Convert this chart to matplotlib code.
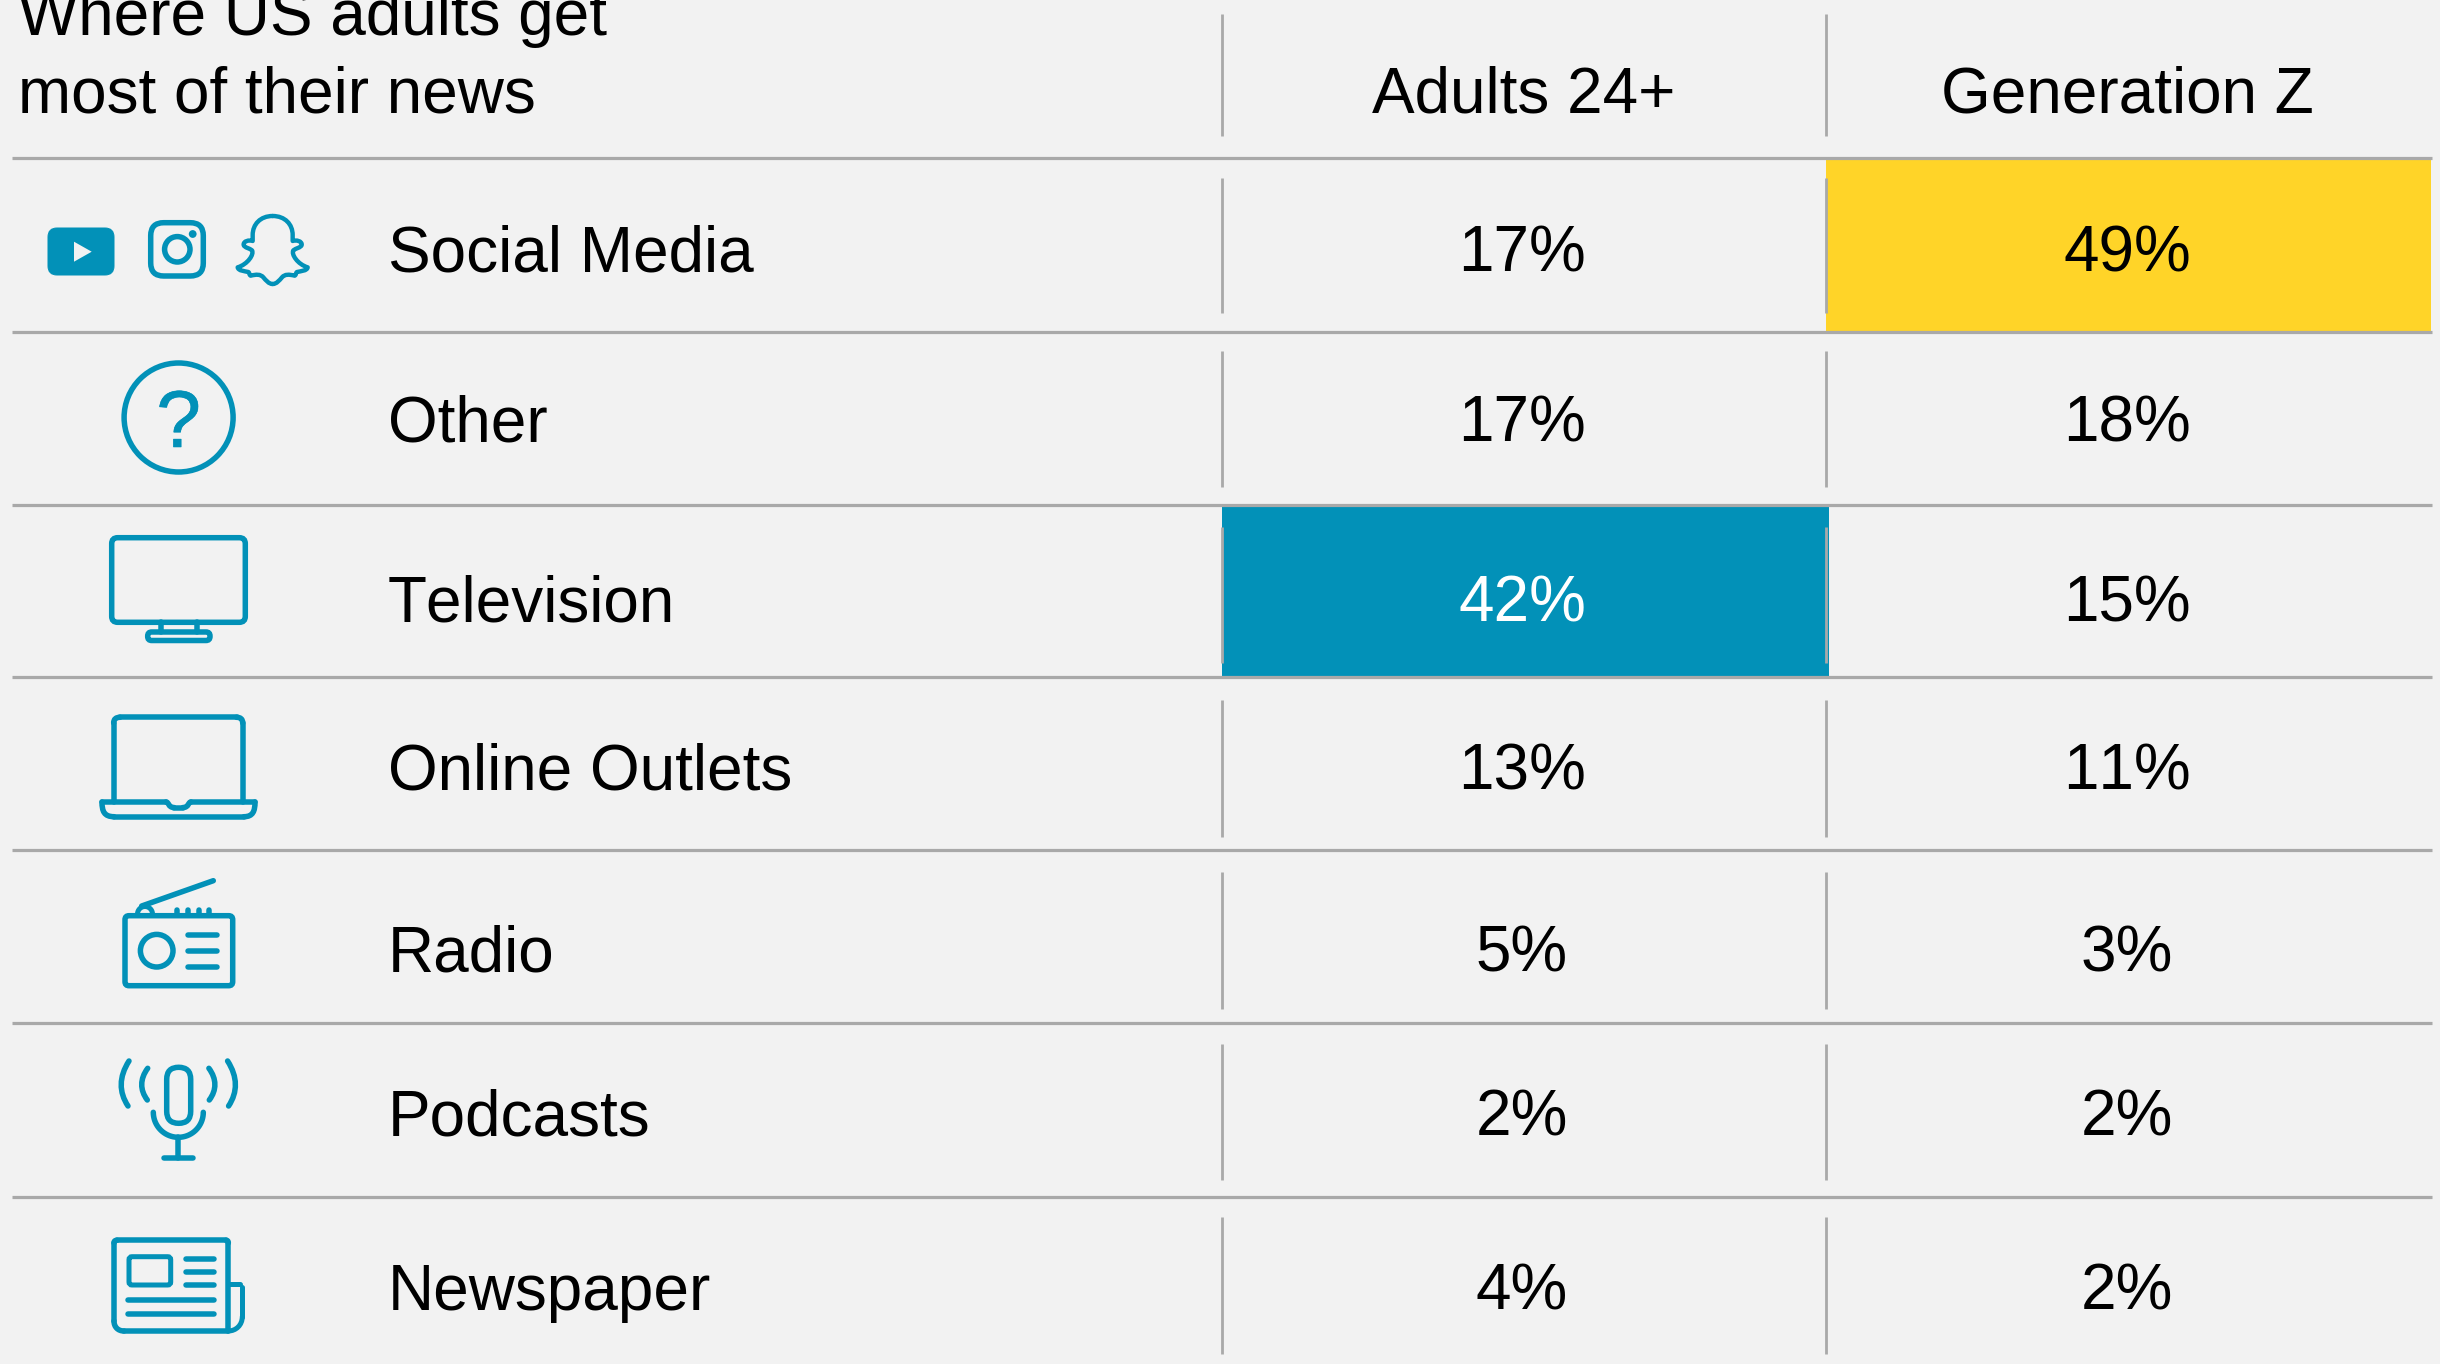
import numpy as np
import matplotlib
matplotlib.use('Agg')
import matplotlib.pyplot as plt
import matplotlib.patheffects as pe
from matplotlib.patches import Circle, FancyBboxPatch, PathPatch, Polygon, Rectangle
from matplotlib.path import Path

## Data
title_lines = ['Where US adults get', 'most of their news']
columns = ['Adults 24+', 'Generation Z']
sources = ['Social Media', 'Other', 'Television', 'Online Outlets', 'Radio', 'Podcasts', 'Newspaper']
adults = [17, 17, 42, 13, 5, 2, 4]
genz = [49, 18, 15, 11, 3, 2, 2]

## Layout, all in pixels of the 2440x1364 picture
BG = '#F2F2F2'
BLUE = '#0291B8'
YELLOW = '#FFD428'
RULE = '#A9A9A9'
PX = 0.72  # points per pixel at dpi 100
rule_ys = [158, 331.5, 505, 677, 850, 1023, 1197]
sep_xs = [1222, 1826]
col_xs = [1522, 2127]
head_xs = [1524, 2127]
baselines = [271, 441, 622, 789, 971, 1135, 1310]
sep_spans = [(178, 313), (351, 487), (527, 663), (700, 837), (872, 1009), (1044, 1180), (1217, 1354)]

plt.rcParams['font.family'] = ['Liberation Sans', 'DejaVu Sans']
plt.rcParams['text.kerning_factor'] = 6  # reference text has no kerning
fig = plt.figure(figsize=(24.4, 13.64), dpi=100, facecolor=BG)
ax = fig.add_axes([0, 0, 1, 1])
ax.set_xlim(0, 2440)
ax.set_ylim(1364, 0)
ax.axis('off')
FS = 46

## Highlights
ax.add_patch(Rectangle((1222, rule_ys[2]), 607, rule_ys[3] - rule_ys[2], fc=BLUE, ec='none', zorder=1))
ax.add_patch(Rectangle((1826, rule_ys[0]), 605, rule_ys[1] - rule_ys[0], fc=YELLOW, ec='none', zorder=1))

## Rules
for y in rule_ys:
    ax.plot([12, 2432], [y, y], color=RULE, lw=3.2 * PX, solid_capstyle='butt', zorder=2)
for x in sep_xs:
    ax.plot([x, x], [14, 136], color=RULE, lw=2.8 * PX, solid_capstyle='butt', zorder=2)
    for top, bottom in sep_spans:
        ax.plot([x, x], [top, bottom], color=RULE, lw=2.8 * PX, solid_capstyle='butt', zorder=2)

## Text
ax.text(18, 35, title_lines[0], fontsize=FS, va='baseline', ha='left', color='black')
ax.text(18, 112.5, title_lines[1], fontsize=FS, va='baseline', ha='left', color='black')
for x, name in zip(head_xs, columns):
    ax.text(x, 112.5, name, fontsize=FS, va='baseline', ha='center', color='black')
for i, name in enumerate(sources):
    ax.text(388, baselines[i], name, fontsize=FS, va='baseline', ha='left', color='black', zorder=3)
    ax.text(col_xs[0], baselines[i], '%d%%' % adults[i], fontsize=FS, va='baseline', ha='center',
            color='white' if adults[i] == max(adults) else 'black', zorder=3)
    ax.text(col_xs[1], baselines[i], '%d%%' % genz[i], fontsize=FS, va='baseline', ha='center',
            color='black', zorder=3)


## Icons
def line(xs, ys, lw=5.5):
    ax.plot(xs, ys, color=BLUE, lw=lw * PX, solid_capstyle='round', solid_joinstyle='round', zorder=3)


def rbox(x0, y0, x1, y1, r, lw=5.5, fill='none'):
    ax.add_patch(FancyBboxPatch((x0 + r, y0 + r), x1 - x0 - 2 * r, y1 - y0 - 2 * r,
                                boxstyle='round,pad=%g,rounding_size=%g' % (r, r),
                                fc=fill, ec=BLUE, lw=lw * PX, zorder=3))


def ring(x, y, r, lw=5.5):
    ax.add_patch(Circle((x, y), r, fc='none', ec=BLUE, lw=lw * PX, zorder=3))


def curve(points, lw=5.5):
    # points: start, then triples of bezier control points
    codes = [Path.MOVETO] + [Path.CURVE4] * (len(points) - 1)
    ax.add_patch(PathPatch(Path(points, codes), fc='none', ec=BLUE, lw=lw * PX,
                           capstyle='round', joinstyle='round', zorder=3))


# youtube
rbox(48, 228, 114, 275, 9, lw=1, fill=BLUE)
ax.add_patch(Polygon([(74, 241.7), (91.7, 251.7), (74, 261.7)], closed=True, fc=BG, ec='none', zorder=4))

# instagram
rbox(150.7, 222.7, 203.3, 276, 13)
ring(177.3, 249.3, 12.7)
ax.add_patch(Circle((192.7, 234), 3.9, fc=BLUE, ec='none', zorder=3))

# snapchat, right half in crop coordinates, then mirrored
snap_r = [(143, 33), (180, 33), (203, 58), (203, 90), (203, 97), (203, 100), (203, 108),
          (213, 104), (232, 108), (230, 120), (228, 128), (212, 130), (205, 136),
          (198, 148), (218, 178), (248, 187), (246, 198), (228, 198), (216, 201),
          (212, 203), (214, 210), (209, 212), (192, 208), (180, 207), (171, 217),
          (163, 226), (155, 237), (143, 237)]
snap_pts = [(225 + x / 3.0, 205 + y / 3.0) for x, y in snap_r]
curve(snap_pts, lw=4.4)
curve([(2 * 272.67 - x, y) for x, y in snap_pts], lw=4.4)

# question mark
ring(178.6, 417.5, 54.5)
ax.text(178.6, 447, '?', fontsize=58, color=BLUE, ha='center', va='baseline', zorder=3,
        path_effects=[pe.withStroke(linewidth=0.4, foreground=BLUE)])

# television
rbox(111.7, 537.7, 245.3, 622.3, 6)
line([160.7, 160.7], [622, 632])
line([196.7, 196.7], [622, 632])
rbox(147.7, 632, 210, 640.5, 4)

# laptop
line([113.7, 113.7], [802, 723])
curve([(113.7, 723), (113.7, 719), (116, 717.3), (120, 717.3)])
line([120, 236.5], [717.3, 717.3])
curve([(236.5, 717.3), (240.5, 717.3), (242.7, 719), (242.7, 723)])
line([242.7, 242.7], [723, 802])
line([102, 166], [802, 802])
curve([(166, 802), (169, 802), (168, 807.5), (174, 807.5)])
line([174, 183], [807.5, 807.5])
curve([(183, 807.5), (189, 807.5), (188, 802), (191, 802)])
line([191, 255], [802, 802])
curve([(102, 802), (102, 811), (104, 816.7), (114, 816.7)])
line([114, 244], [816.7, 816.7])
curve([(244, 816.7), (253, 816.7), (255, 811), (255, 802)])

# radio
rbox(125, 915.7, 232.7, 985.7, 4)
ring(156.7, 950.7, 16.3)
for y in [934.7, 951, 967]:
    line([188.3, 216.7], [y, y])
line([141.7, 213.3], [906, 880.7])
t = np.linspace(np.pi, 2 * np.pi, 20)
line(145 + 7.5 * np.cos(t), 914 + 7.5 * np.sin(t), lw=5)
for x in [177.3, 188, 198.7, 209.3]:
    line([x, x], [910, 914], lw=5.5)

# podcast mic
rbox(166.7, 1067.3, 190.7, 1123.3, 12)
t = np.linspace(0, np.pi, 40)
line(178.3 + 25 * np.cos(t), 1112.3 + 25 * np.sin(t))
line([178.3, 178.3], [1137, 1158.3])
line([164, 193], [1158.3, 1158.3])
for side in [-1, 1]:
    curve([(178.3 + side * 30.6, 1068.3), (178.3 + side * 38.5, 1079),
           (178.3 + side * 38.5, 1090), (178.3 + side * 31, 1100)])
    curve([(178.3 + side * 49.3, 1061), (178.3 + side * 59.5, 1077),
           (178.3 + side * 59.5, 1092), (178.3 + side * 50.3, 1106)])

# newspaper
line([228.3, 228.3], [1331, 1243])
curve([(228.3, 1243), (228.3, 1241), (227.5, 1240.3), (226, 1240.3)])
line([226, 117], [1240.3, 1240.3])
curve([(117, 1240.3), (115, 1240.3), (114, 1241), (114, 1243)])
line([114, 114], [1243, 1321])
curve([(114, 1321), (114, 1327), (118, 1331), (124, 1331)])
line([124, 228.3], [1331, 1331])
line([228.3, 240], [1284.3, 1284.3], lw=5)
line([242.3, 242.3], [1286.5, 1316.7], lw=5)
curve([(242.3, 1316.7), (242.3, 1325), (236, 1331), (228.3, 1331)], lw=5)
rbox(129, 1256.7, 170.7, 1285, 3, lw=5)
for y in [1258.7, 1271.7, 1285]:
    line([185.7, 214], [y, y])
for y in [1300, 1314]:
    line([128.3, 214], [y, y])

fig.savefig('out.png', dpi=100, facecolor=BG)
